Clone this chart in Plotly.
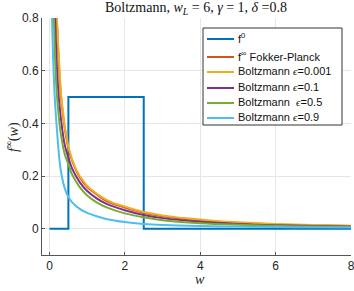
import plotly.graph_objects as go

# ---- data ----
w0 = [0, 0.5, 0.5, 2.5, 2.5, 8]
f0 = [0, 0, 0.5, 0.5, 0, 0]

w_grid = [0.05, 0.1, 0.15, 0.2, 0.25, 0.3, 0.4, 0.5, 0.6, 0.8, 1.0, 1.25, 1.5,
          2.0, 2.5, 3.0, 4.0, 5.0, 6.0, 7.0, 8.0]
f_fp = [3.0, 1.6, 1.05, 0.78, 0.62, 0.51, 0.385, 0.305, 0.258, 0.195, 0.158, 0.13,
        0.106, 0.08, 0.060, 0.047, 0.031, 0.022, 0.016, 0.013, 0.010]
f_eps01 = [2.4, 1.2, 0.8, 0.6, 0.49, 0.42, 0.32, 0.27, 0.228, 0.177, 0.143, 0.115,
           0.095, 0.07, 0.052, 0.04, 0.026, 0.018, 0.013, 0.010, 0.008]
f_eps05 = [1.9, 0.92, 0.64, 0.5, 0.42, 0.36, 0.285, 0.245, 0.205, 0.158, 0.126, 0.1,
           0.082, 0.058, 0.043, 0.032, 0.021, 0.015, 0.011, 0.008, 0.006]
f_eps09 = [0.9, 0.63, 0.47, 0.37, 0.28, 0.22, 0.155, 0.12, 0.1, 0.075, 0.06, 0.047,
           0.037, 0.025, 0.018, 0.014, 0.010, 0.008, 0.006, 0.005, 0.004]

w_mc = [0.05, 0.1, 0.15, 0.2, 0.25, 0.3, 0.4, 0.5, 0.6, 0.7, 0.8, 0.9, 1.0, 1.1,
        1.2, 1.3, 1.4, 1.5, 1.7, 1.9, 2.1, 2.3, 2.5, 2.75, 3.0, 3.5, 4.0, 4.5,
        5.0, 5.5, 6.0, 7.0, 8.0]
f_eps0001 = [3.0, 1.58, 1.04, 0.775, 0.62, 0.515, 0.39, 0.31, 0.262, 0.226, 0.2,
             0.180, 0.162, 0.150, 0.138, 0.128, 0.119, 0.110, 0.097, 0.088, 0.078,
             0.071, 0.063, 0.056, 0.050, 0.041, 0.034, 0.028, 0.024, 0.020, 0.018,
             0.014, 0.011]

x_ticks = [0, 2, 4, 6, 8]
y_ticks = [0, 0.2, 0.4, 0.6, 0.8]

EPS = "<span style='font-family:Liberation Serif'><i>ϵ</i></span>"
names = ["f<sup>0</sup>", "f<sup>∞</sup> Fokker-Planck",
         "Boltzmann " + EPS + "=0.001",
         "Boltzmann " + EPS + "=0.1",
         "Boltzmann &nbsp;" + EPS + "=0.5",
         "Boltzmann " + EPS + "=0.9"]
colors = ["#0072BD", "#D95319", "#EDB120", "#7E2F8E", "#77AC30", "#4DBEEE"]

series = [(w0, f0, "linear"), (w_grid, f_fp, "spline"), (w_mc, f_eps0001, "linear"),
          (w_grid, f_eps01, "spline"), (w_grid, f_eps05, "spline"),
          (w_grid, f_eps09, "spline")]

W, H = 354, 291
L, R, T, B = 42, 3, 18, 36
PW, PH = W - L - R, H - T - B

def px(x):  # pixel -> paper fraction
    return (x - L) / PW

def py(y):
    return 1 - (y - T) / PH

fig = go.Figure()
for (xs, ys, shp), nm, c in zip(series, names, colors):
    fig.add_trace(go.Scatter(x=xs, y=ys, mode="lines", name=nm, showlegend=False,
                             hoverinfo="skip",
                             line=dict(color=c, width=2, shape=shp)))

axis_common = dict(showgrid=True, gridcolor="#e6e6e6", gridwidth=1,
                   showline=True, linecolor="#555555", linewidth=1,
                   ticks="inside", ticklen=3, tickcolor="#555555", automargin=False,
                   zeroline=False, ticklabeloverflow="allow",
                   tickfont=dict(family="Liberation Sans", size=12, color="#262626"))

shapes = []
annotations = []

# legend box (manual, compact like the reference)
leg_x0, leg_x1, leg_y0, leg_y1 = 203, 342, 28, 125
shapes.append(dict(type="rect", xref="paper", yref="paper",
                   x0=px(leg_x0), x1=px(leg_x1), y0=py(leg_y1), y1=py(leg_y0),
                   line=dict(color="#333333", width=1), fillcolor="white", layer="above"))
entry_y = [39, 57, 72, 88, 103, 118]
for nm, c, yy in zip(names, colors, entry_y):
    shapes.append(dict(type="line", xref="paper", yref="paper",
                       x0=px(207), x1=px(234), y0=py(yy), y1=py(yy),
                       line=dict(color=c, width=2), layer="above"))
    annotations.append(dict(text=nm, xref="paper", yref="paper", x=px(236), y=py(yy - 1),
                            xanchor="left", yanchor="middle", showarrow=False,
                            font=dict(family="Liberation Sans", size=11, color="#111111")))

# title and axis titles
annotations.append(dict(text="Boltzmann, <i>w</i><sub><i>L</i></sub> = 6, <i>γ</i> = 1, <i>δ</i> =0.8",
                        xref="paper", yref="paper", x=px(196), y=py(8),
                        xanchor="center", yanchor="middle", showarrow=False,
                        font=dict(family="Liberation Serif", size=14, color="#111111")))
annotations.append(dict(text="<i>w</i>", xref="paper", yref="paper", x=px(200), y=py(279),
                        xanchor="center", yanchor="middle", showarrow=False,
                        font=dict(family="Liberation Serif", size=14, color="#262626")))
annotations.append(dict(text="<i>f</i><sup>∞</sup>(<i>w</i>)", xref="paper", yref="paper",
                        x=px(12), y=py(137), textangle=-90,
                        xanchor="center", yanchor="middle", showarrow=False,
                        font=dict(family="Liberation Serif", size=14, color="#262626")))

fig.update_layout(
    width=W, height=H,
    margin=dict(l=L, r=R, t=T, b=B, autoexpand=False),
    plot_bgcolor="white", paper_bgcolor="white",
    xaxis=dict(range=[-0.2, 8], tickvals=x_ticks, **axis_common),
    yaxis=dict(range=[-0.1, 0.8], tickvals=y_ticks, **axis_common),
    shapes=shapes, annotations=annotations,
    showlegend=False, hovermode=False,
)

fig.write_html("out.html", config={"displayModeBar": False, "staticPlot": True},
               post_script="document.body.style.margin='0';document.body.style.overflow='hidden';")
